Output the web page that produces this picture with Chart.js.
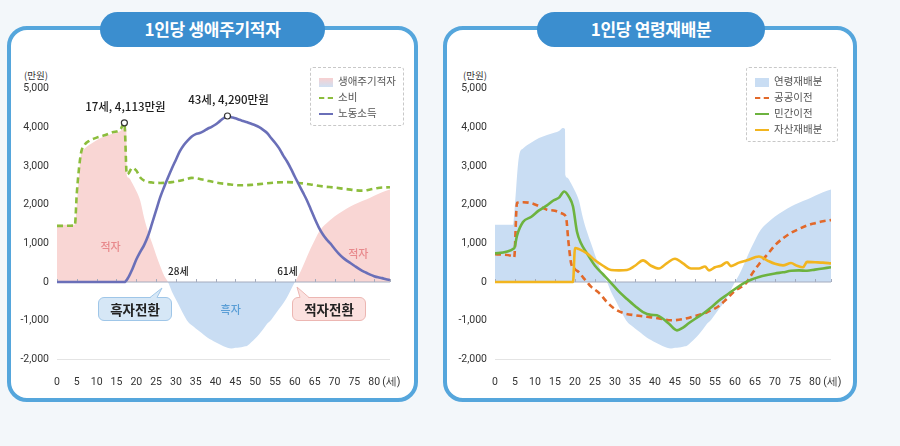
<!DOCTYPE html>
<html>
<head>
<meta charset="utf-8">
<script src="https://cdn.jsdelivr.net/npm/chart.js@4.4.0/dist/chart.umd.min.js"></script>
<style>
body{margin:0;width:900px;height:446px;background:#f3f7fa;position:relative;overflow:hidden;font-family:"Noto Sans CJK KR","Noto Sans",sans-serif;}
.panel{position:absolute;top:26px;height:368px;border:4px solid #55a6dc;border-radius:20px;background:#fff;}
.pill{position:absolute;top:12px;height:35px;line-height:34px;border-radius:18px;background:#3b8ecf;color:#fff;font-size:17px;font-weight:700;text-align:center;letter-spacing:-0.3px;}
canvas{position:absolute;top:60px;}
.unit{position:absolute;top:68px;font-size:9.5px;color:#333;text-align:right;width:30px;}
.legend{position:absolute;top:67px;border:1px dashed #c8c8c8;border-radius:3px;padding:5px 6px 4px 8px;font-size:10.5px;color:#555;background:#fff;}
.legend div{height:16px;line-height:16px;white-space:nowrap;}
.legend i{display:inline-block;width:14px;margin-right:5px;vertical-align:middle;}
.call{position:absolute;top:297px;width:72px;height:22px;line-height:22px;border-radius:6px;font-size:13.5px;font-weight:700;color:#222;text-align:center;}
svg.tail{position:absolute;left:0;top:0;}
</style>
</head>
<body>
<div class="panel" style="left:7px;width:403px"></div>
<div class="panel" style="left:443px;width:406px"></div>
<div class="pill" style="left:100px;width:225px">1인당 생애주기적자</div>
<div class="pill" style="left:537px;width:228px">1인당 연령재배분</div>
<div class="unit" style="left:18px">(만원)</div>
<div class="unit" style="left:457px">(만원)</div>

<canvas id="c1" width="420" height="340" style="left:0"></canvas>
<canvas id="c2" width="420" height="340" style="left:440px"></canvas>

<div class="legend" style="left:310px;width:78px">
  <div><i style="height:9px;background:linear-gradient(#f8d0d0,#cfe0f3)"></i>생애주기적자</div>
  <div><i style="border-top:2.5px dashed #8cbd3c"></i>소비</div>
  <div><i style="border-top:2.5px solid #6a6fb8"></i>노동소득</div>
</div>
<div class="legend" style="left:746px;width:76px">
  <div><i style="height:9px;background:#c9ddf3"></i>연령재배분</div>
  <div><i style="border-top:2.5px dashed #e2692a"></i>공공이전</div>
  <div><i style="border-top:2.5px solid #6db33f"></i>민간이전</div>
  <div><i style="border-top:2.5px solid #f2b51f"></i>자산재배분</div>
</div>

<div class="call" style="left:98px;background:#d6e7f6;border:1px solid #9fc6e8">흑자전환</div>
<div class="call" style="left:292px;background:#fbe1df;border:1px solid #ecb6b2">적자전환</div>
<svg class="tail" width="420" height="330">
  <path d="M150 298 L162 288 L157 298 Z" fill="#d6e7f6"/>
  <path d="M150 297.5 L162 288 L157 297.5" fill="none" stroke="#9fc6e8"/>
  <path d="M300 298 L297 287 L309 298 Z" fill="#fbe1df"/>
  <path d="M300 297.5 L297 287 L309 297.5" fill="none" stroke="#ecb6b2"/>
</svg>

<script>
"use strict"

// 연령 눈금 (마지막은 단위 표시)
let xTicks = [0,5,10,15,20,25,30,35,40,45,50,55,60,65,70,75,80,84];

// 생애주기적자 = 연령재배분 (영역)
let defAge = [0,4.5,5,6,7,9,11,13,15,16,17,17.5,17.6,18,19,20,21,22,23,24,25,26,27,28,29,30,31,32,33,34,35,36,37,38,39,40,41,42,43,44,45,46,47,48,49,50,51,52,53,54,55,56,57,58,59,60,61,62,63,64,65,66,67,68,70,72,74,76,78,80,82,84];
let defVal = [1480,1480,2000,3250,3450,3600,3720,3800,3860,3900,3980,3950,2760,2700,2550,2350,2100,1650,1300,1000,700,420,170,0,-250,-450,-650,-850,-1020,-1120,-1200,-1280,-1360,-1440,-1500,-1560,-1610,-1660,-1700,-1720,-1700,-1690,-1670,-1650,-1560,-1460,-1350,-1220,-1080,-980,-840,-700,-560,-400,-200,0,180,400,640,870,1080,1280,1420,1520,1690,1830,1950,2050,2130,2230,2320,2390];

// 소비
let consAge = [0,4.5,5,6,7,8,10,12,14,16,17,17.6,18,19,20,21,22,24,26,29,32,34,37,40,43,46,49,52,55,58,61,64,67,70,73,77,79,81,84];
let consVal = [1450,1460,2300,3300,3550,3640,3730,3790,3870,3940,4113,2780,2800,2950,2880,2700,2620,2570,2560,2580,2640,2690,2640,2570,2530,2500,2510,2540,2570,2580,2560,2520,2470,2440,2400,2360,2390,2430,2450];

// 노동소득
let laborAge = [0,17,18,19,20,21,22,23,24,25,26,27,28,29,30,31,32,33,34,35,36,37,38,39,40,41,42,43,44,45,46,47,48,49,50,51,52,53,54,55,56,57,58,59,60,61,62,63,64,65,66,67,68,69,70,71,72,73,74,75,76,77,78,79,80,81,82,83,84];
let laborVal = [0,0,120,330,580,780,960,1200,1520,1850,2180,2450,2700,2940,3160,3380,3540,3660,3760,3820,3850,3900,3960,4010,4070,4150,4230,4290,4260,4230,4190,4160,4130,4090,4050,4000,3930,3850,3720,3600,3460,3280,3120,2930,2720,2520,2320,2120,1880,1640,1420,1240,1100,990,860,740,640,560,490,420,350,290,240,190,150,120,100,70,50];

// 강조점
let peakAge = [17,43];
let peakVal = [4113,4290];
let peakText = ["17세, 4,113만원","43세, 4,290만원"];
let turnAge = [28,61];

// 공공이전
let pubAge = [0,4,4.8,5.5,7,9,11,13,15,16,17,17.8,18.3,19,20,21,22,23,24,26,28,30,32,35,38,41,44,47,50,53,56,58,60,62,63,64,66,68,70,72,74,76,78,80,82,84];
let pubVal = [720,680,640,2050,2060,2040,1960,1870,1840,1800,1760,1650,1100,500,330,250,120,0,-120,-280,-520,-700,-800,-860,-900,-940,-990,-960,-880,-780,-620,-430,-230,-100,0,170,460,700,950,1130,1270,1370,1460,1520,1570,1600];

// 민간이전
let privAge = [0,4.8,5.5,7,9,11,13,14.5,16,17.3,18.5,19.5,20.5,21.5,23,25,27,29,31,33,35,37,39,40.5,42,43.5,45.5,47,48.5,50.5,52,54,56,58,60,62,64,66,68,70,72,74,76,78,80,82,84];
let privVal = [740,870,1200,1550,1680,1850,1980,2100,2180,2340,2200,1950,1300,1000,740,420,200,-20,-250,-440,-620,-780,-850,-860,-950,-1080,-1250,-1180,-1060,-920,-820,-660,-480,-330,-180,-40,60,130,180,220,250,290,300,290,320,350,380];

// 자산재배분
let assetAge = [0,19.5,20,21,23,25,27,29,31,33,35,37,39,41,43,45,47,49,51,52.5,53.5,55,56.5,58,59,61,63,66,68,70,72,74,75.5,77,78,80,82,84];
let assetVal = [0,0,880,850,740,560,420,310,300,310,420,560,420,350,490,600,480,350,350,400,300,380,420,510,410,500,560,660,560,470,430,490,420,380,520,510,500,480];

function pts(ages, vals){
    let out = [];
    for (let i = 0; i < ages.length; i++)
    {
        out.push({x: ages[i], y: vals[i]});
    }
    return out;
}

const tickFont = {family: "Roboto", size: 10.5};

function scales(leftW){
    return {
        x: {
            type: "linear", min: 0, max: 84,
            afterBuildTicks: function(s){ s.ticks = xTicks.map(v => ({value: v})); },
            ticks: {autoSkip: false, maxRotation: 0, padding: 9, color: "#333", font: tickFont,
                callback: v => v === 84 ? " (세)" : v},
            grid: {display: false},
            border: {display: false},
            afterFit: function(s){ s.height = 40.6; }
        },
        y: {
            min: -2000, max: 5000,
            ticks: {stepSize: 1000, padding: 8, color: "#333", font: tickFont,
                callback: v => v.toLocaleString("en-US")},
            grid: {drawTicks: false, color: c => c.tick.value === -2000 ? "#e4e4e4" : "rgba(0,0,0,0)"},
            border: {display: false},
            afterFit: function(s){ s.width = leftW; }
        }
    };
}

// 0 기준선과 눈금 (영역 위, 선 아래)
const zeroLine = {
    id: "zeroLine",
    afterDatasetDraw: function(chart, args){
        if (args.index !== 0) return;
        const ctx = chart.ctx, x = chart.scales.x, y = chart.scales.y;
        const y0 = y.getPixelForValue(0);
        ctx.save();
        ctx.strokeStyle = "#a4abbd";
        ctx.lineWidth = 1;
        ctx.beginPath();
        ctx.moveTo(chart.chartArea.left, y0);
        ctx.lineTo(chart.chartArea.right, y0);
        for (const v of xTicks)
        {
            const px = Math.round(x.getPixelForValue(v)) + 0.5;
            ctx.moveTo(px, y0);
            ctx.lineTo(px, y0 - 3);
        }
        ctx.stroke();
        ctx.restore();
    }
};

// 왼쪽 그래프의 글자들
const notes = {
    id: "notes",
    afterDatasetsDraw: function(chart){
        const ctx = chart.ctx, x = chart.scales.x, y = chart.scales.y;
        ctx.save();
        ctx.textAlign = "center";
        ctx.textBaseline = "middle";
        ctx.fillStyle = "#1e1e1e";
        ctx.font = "500 11.5px 'Noto Sans CJK KR'";
        for (let i = 0; i < peakAge.length; i++)
        {
            ctx.fillText(peakText[i], x.getPixelForValue(peakAge[i]) + 1, y.getPixelForValue(peakVal[i]) - 16);
        }
        ctx.font = "500 10px 'Noto Sans CJK KR'";
        ctx.textAlign = "left";
        ctx.fillText(turnAge[0] + "세", x.getPixelForValue(turnAge[0]), y.getPixelForValue(0) - 11);
        ctx.textAlign = "right";
        ctx.fillText(turnAge[1] + "세", x.getPixelForValue(turnAge[1]) - 1, y.getPixelForValue(0) - 11);
        ctx.textAlign = "center";
        ctx.font = "500 11px 'Noto Sans CJK KR'";
        ctx.fillStyle = "#e8898c";
        ctx.fillText("적자", x.getPixelForValue(13.5), y.getPixelForValue(900));
        ctx.fillText("적자", x.getPixelForValue(76), y.getPixelForValue(720));
        ctx.fillStyle = "#5a9ed6";
        ctx.fillText("흑자", x.getPixelForValue(43.8), y.getPixelForValue(-720));
        ctx.restore();
    }
};

const smooth = {pointRadius: 0, cubicInterpolationMode: "monotone", fill: false};

let chart1 = new Chart(document.getElementById("c1"), {
    type: "line",
    data: {
        datasets: [
            {...smooth, label: "생애주기적자", data: pts(defAge, defVal), borderWidth: 0,
             fill: {target: {value: 0}, above: "#f9d6d4", below: "#c9ddf3"}, order: 10},
            {...smooth, label: "소비", data: pts(consAge, consVal), borderColor: "#8cbd3c", borderWidth: 2.6,
             borderDash: [6, 4], order: 3},
            {...smooth, label: "노동소득", data: pts(laborAge, laborVal), borderColor: "#6a6fb8", borderWidth: 2.6, order: 2},
            {label: "peak", type: "scatter", data: pts(peakAge, peakVal), pointRadius: 3, pointBorderWidth: 1.2,
             pointBackgroundColor: "#fff", pointBorderColor: "#333", order: 0}
        ]
    },
    options: {
        responsive: false, animation: false,
        layout: {padding: {top: 28.5, right: 30, left: 0, bottom: 0}},
        plugins: {legend: {display: false}, tooltip: {enabled: false}},
        scales: scales(57)
    },
    plugins: [zeroLine, notes]
});

let chart2 = new Chart(document.getElementById("c2"), {
    type: "line",
    data: {
        datasets: [
            {...smooth, label: "연령재배분", data: pts(defAge, defVal), borderWidth: 0,
             fill: {target: {value: 0}}, backgroundColor: "#c9ddf3", order: 10},
            {...smooth, label: "공공이전", data: pts(pubAge, pubVal), borderColor: "#e2692a", borderWidth: 2.6,
             borderDash: [6, 4], order: 3},
            {...smooth, label: "민간이전", data: pts(privAge, privVal), borderColor: "#6db33f", borderWidth: 2.6, order: 2},
            {...smooth, label: "자산재배분", data: pts(assetAge, assetVal), borderColor: "#f2b51f", borderWidth: 2.6, order: 1}
        ]
    },
    options: {
        responsive: false, animation: false,
        layout: {padding: {top: 28.5, right: 29, left: 0, bottom: 0}},
        plugins: {legend: {display: false}, tooltip: {enabled: false}},
        scales: scales(55)
    },
    plugins: [zeroLine]
});
</script>
</body>
</html>
